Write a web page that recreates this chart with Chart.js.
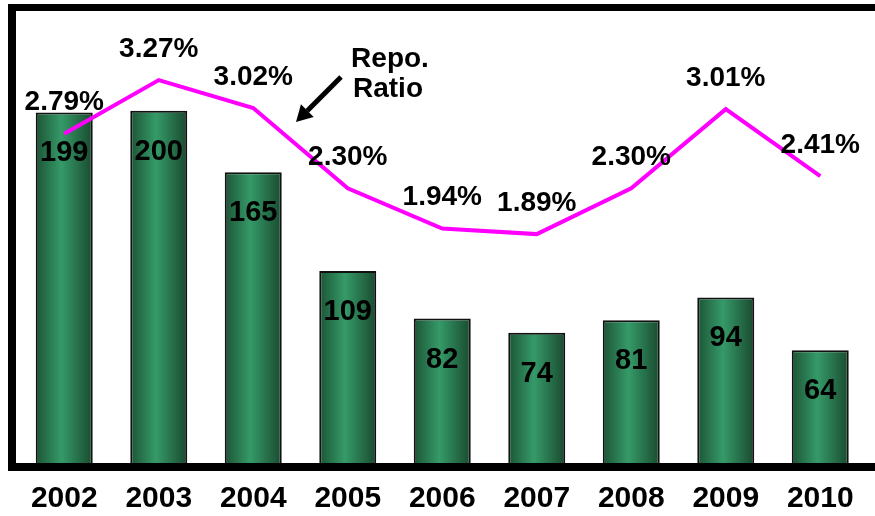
<!DOCTYPE html>
<html>
<head>
<meta charset="utf-8">
<script src="https://cdn.jsdelivr.net/npm/chart.js@4/dist/chart.umd.min.js"></script>
<style>
html,body{margin:0;padding:0;background:#fff;}
#wrap{width:875px;height:516px;position:relative;}
</style>
</head>
<body>
<div id="wrap"><canvas id="c" width="875" height="516"></canvas></div>
<script>
// ---- data ----
const years = ['2002','2003','2004','2005','2006','2007','2008','2009','2010'];
const repoCount = [199, 200, 165, 109, 82, 74, 81, 94, 64];
const repoRatio = [2.79, 3.27, 3.02, 2.30, 1.94, 1.89, 2.30, 3.01, 2.41];
const annotationText = ['Repo.', 'Ratio'];

const FONT = '"Liberation Sans", Arial, Helvetica, sans-serif';
const BAR_PCT = 0.603;

const framePlugin = {
  id: 'frame',
  afterDatasetsDraw(chart) {
    const {ctx, chartArea, width} = chart;
    ctx.save();
    ctx.fillStyle = '#000';
    const l = chartArea.left - 9, t = chartArea.top - 7, b = chartArea.bottom;
    ctx.fillRect(l, t, width - l, 7);
    ctx.fillRect(l, t, 8, b + 8 - t);
    ctx.fillRect(l, b, width - l, 8);
    ctx.restore();
  }
};

const labelPlugin = {
  id: 'labels',
  afterDatasetsDraw(chart) {
    const ctx = chart.ctx;
    ctx.save();
    ctx.fillStyle = '#000';
    ctx.textAlign = 'center';
    ctx.textBaseline = 'middle';
    // bar values
    ctx.font = 'bold 29px ' + FONT;
    chart.getDatasetMeta(0).data.forEach((el, i) => {
      ctx.fillText(String(repoCount[i]), el.x, el.y + 41);
    });
    // ratio labels
    ctx.font = 'bold 28px ' + FONT;
    chart.getDatasetMeta(1).data.forEach((el, i) => {
      ctx.fillText(repoRatio[i].toFixed(2) + '%', el.x, el.y - 31);
    });
    // annotation
    const a = chart.chartArea;
    const ax = a.left + 373, ay = a.top + 48;
    ctx.fillText(annotationText[0], ax, ay);
    ctx.fillText(annotationText[1], ax - 2, ay + 30);
    // arrow
    const x0 = a.left + 324, y0 = a.top + 66, x1 = a.left + 279, y1 = a.top + 111;
    const dx = x1 - x0, dy = y1 - y0, len = Math.hypot(dx, dy);
    const ux = dx / len, uy = dy / len;
    const hl = 16, hw = 9;
    const bx = x1 - ux * hl, by = y1 - uy * hl;
    ctx.strokeStyle = '#000';
    ctx.lineWidth = 5;
    ctx.beginPath();
    ctx.moveTo(x0, y0);
    ctx.lineTo(bx, by);
    ctx.stroke();
    ctx.beginPath();
    ctx.moveTo(x1, y1);
    ctx.lineTo(bx - uy * hw, by + ux * hw);
    ctx.lineTo(bx + uy * hw, by - ux * hw);
    ctx.closePath();
    ctx.fill();
    ctx.restore();
  }
};

new Chart(document.getElementById('c'), {
  data: {
    labels: years,
    datasets: [
      {
        type: 'bar',
        data: repoCount,
        yAxisID: 'y',
        order: 1,
        borderColor: '#111',
        borderWidth: 2,
        barPercentage: BAR_PCT,
        categoryPercentage: 1,
        backgroundColor: (c) => {
          const chart = c.chart;
          if (!chart.chartArea || c.type !== 'data') return '#2e8b57';
          const xs = chart.scales.x;
          const cx = xs.getPixelForValue(c.dataIndex);
          const w = xs.width / years.length * BAR_PCT;
          const g = chart.ctx.createLinearGradient(cx - w / 2, 0, cx + w / 2, 0);
          g.addColorStop(0, '#1c5435');
          g.addColorStop(0.45, '#359a68');
          g.addColorStop(1, '#194a2f');
          return g;
        }
      },
      {
        type: 'line',
        data: repoRatio,
        yAxisID: 'y1',
        order: 0,
        borderColor: '#ff00ff',
        borderWidth: 4,
        borderJoinStyle: 'miter',
        pointRadius: 0,
        tension: 0,
        fill: false
      }
    ]
  },
  options: {
    responsive: false,
    devicePixelRatio: 1,
    animation: false,
    layout: { padding: { left: 17, right: 7.5, top: 11, bottom: -19 } },
    plugins: { legend: { display: false }, tooltip: { enabled: false } },
    scales: {
      x: {
        grid: { display: false, drawTicks: false },
        border: { display: false },
        ticks: {
          color: '#000',
          padding: 18,
          maxRotation: 0,
          font: { family: FONT, size: 30, weight: 'bold', lineHeight: 1.2 }
        }
      },
      y: { display: false, min: 0, max: 256.6 },
      y1: { display: false, min: -0.161, max: 3.889, position: 'right' }
    }
  },
  plugins: [framePlugin, labelPlugin]
});
</script>
</body>
</html>
